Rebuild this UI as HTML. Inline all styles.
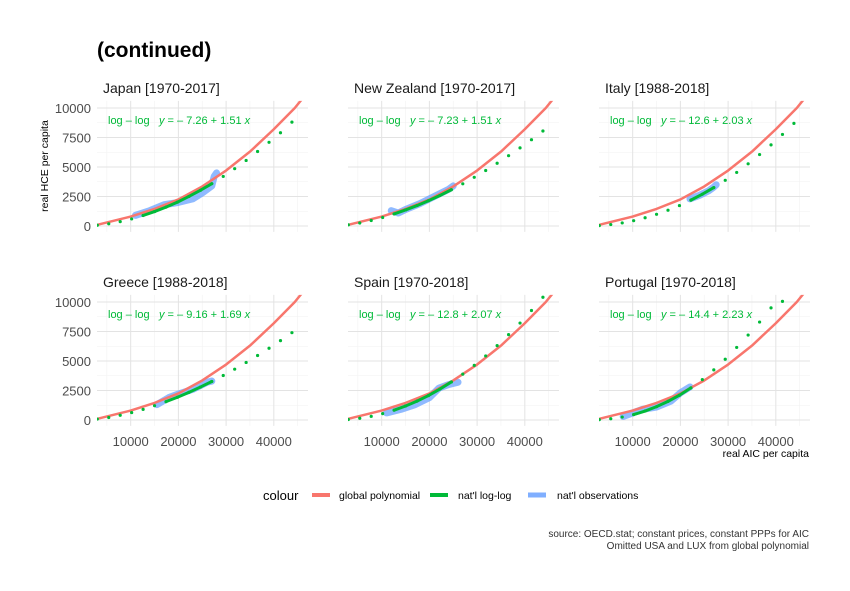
<!DOCTYPE html>
<html><head><meta charset="utf-8">
<style>
html,body{margin:0;padding:0;background:#fff;}
svg{display:block;font-family:"Liberation Sans",sans-serif;}
</style></head>
<body>
<svg id="chart" width="850" height="591" viewBox="0 0 850 591">
<text x="97" y="57" font-size="21" font-weight="bold" fill="#000">(continued)</text>
<text transform="translate(48,166) rotate(-90)" text-anchor="middle" font-size="10.5" fill="#000">real HCE per capita</text>
<text x="809" y="457" text-anchor="end" font-size="10.5" fill="#000">real AIC per capita</text>
<g>
<text x="263" y="500" font-size="13" fill="#000">colour</text>
<line x1="312" y1="495" x2="330" y2="495" stroke="#F8766D" stroke-width="4"/>
<text x="339" y="499" font-size="10.5" fill="#000">global polynomial</text>
<line x1="430" y1="495" x2="448" y2="495" stroke="#00BA38" stroke-width="4"/>
<text x="458" y="499" font-size="10.5" fill="#000">nat'l log-log</text>
<line x1="528" y1="495" x2="546" y2="495" stroke="#619CFF" stroke-width="5" opacity="0.8"/>
<text x="557" y="499" font-size="10.5" fill="#000">nat'l observations</text>
</g>
<text x="809" y="537" text-anchor="end" font-size="10" fill="#333">source: OECD.stat; constant prices, constant PPPs for AIC</text>
<text x="809" y="549" text-anchor="end" font-size="10" fill="#333">Omitted USA and LUX from global polynomial</text>
</svg>
<script>
const panels = ["Japan [1970-2017]","New Zealand [1970-2017]","Italy [1988-2018]","Greece [1988-2018]","Spain [1970-2018]","Portugal [1970-2018]"];
const equations = ["y = – 7.26 + 1.51 x","y = – 7.23 + 1.51 x","y = – 12.6 + 2.03 x","y = – 9.16 + 1.69 x","y = – 12.8 + 2.07 x","y = – 14.4 + 2.23 x"];
const xTicks = [10000,20000,30000,40000];
const yTicks = [0,2500,5000,7500,10000];
const globalX = [3000,10000,15000,20000,25000,30000,35000,40000,44400,46000];
const globalY = [100,800,1450,2250,3350,4700,6300,8200,10000,10800];
const dotX = [3000,5400,7800,10200,12600,15000,17400,19800,22200,24600,27000,29400,31800,34200,36600,39000,41400,43800];
const dotJapan = [66,186,368,600,889,1223,1601,2024,2504,3023,3586,4202,4858,5556,6315,7093,7900,8800];
const dotNZ = [100,254,465,722,1023,1361,1731,2138,2587,3070,3577,4128,4706,5315,5960,6622,7314,8050];
const dotItaly = [37,123,261,452,696,992,1340,1731,2192,2697,3254,3872,4541,5272,6055,6873,7760,8700];
const dotGreece = [80,212,400,629,903,1214,1554,1931,2346,2790,3263,3774,4307,4877,5469,6083,6727,7400];
const dotSpain = [45,147,312,541,832,1186,1600,2070,2620,3224,3890,4628,5430,6302,7238,8216,9277,10400];
const dotPortugal = [29,106,250,460,760,1130,1580,2100,2720,3420,4250,5150,6150,7200,8300,9500,10055,11400];
const fitMin = [10500,12000,22000,15500,11000,8000];
const fitMax = [28000,25000,27500,27000,25500,23000];
const obsJapanX = [11000,14000,17000,20000,23000,25000,27000,27500,28000];
const obsJapanY = [900,1300,1800,2000,2300,2800,3400,4200,4500];
const obsNZX = [12000,13500,15000,18000,21000,24000,25000];
const obsNZY = [1300,1100,1400,1900,2500,3100,3400];
const obsItalyX = [22000,24000,26000,27000,27500];
const obsItalyY = [2300,2600,3000,3300,3500];
const obsGreeceX = [15500,18000,20000,23000,26000,27000];
const obsGreeceY = [1300,1900,2200,2600,3200,3300];
const obsSpainX = [11000,14000,17000,20000,22000,24000,26000];
const obsSpainY = [600,900,1300,1900,2700,3000,3200];
const obsPortugalX = [8000,10000,12000,15000,18000,20000,22000];
const obsPortugalY = [300,600,900,1100,1600,2300,2800];

const dots = [dotJapan,dotNZ,dotItaly,dotGreece,dotSpain,dotPortugal];
const obsX = [obsJapanX,obsNZX,obsItalyX,obsGreeceX,obsSpainX,obsPortugalX];
const obsY = [obsJapanY,obsNZY,obsItalyY,obsGreeceY,obsSpainY,obsPortugalY];

const NS="http://www.w3.org/2000/svg";
const svg=document.getElementById('chart');
const YMAX=10600, YMIN=-500;
function mk(tag,attrs,parent){const e=document.createElementNS(NS,tag);for(const k in attrs)e.setAttribute(k,attrs[k]);(parent||svg).appendChild(e);return e;}

panels.forEach((title,i)=>{
  const col=i%3,row=Math.floor(i/3);
  const left=97+col*251, width=211;
  const zero=226+row*194;
  const sx=v=>83+col*251+v*0.00477;
  const sy=v=>zero-v*0.0118;
  const g=mk('g',{});
  
  
  const top=sy(YMAX), bot=sy(YMIN);
  const clipId='clip'+i;
  const cp=mk('clipPath',{id:clipId},g);
  mk('rect',{x:left,y:top,width:width,height:bot-top},cp);
  for(let v=5000;v<=45000;v+=10000){const l=mk('line',{x1:sx(v),x2:sx(v),y1:top,y2:bot,stroke:'#f2f2f2','stroke-width':0.6},g);}
  for(let v=1250;v<=8750;v+=2500){const l=mk('line',{x1:left,x2:left+width,y1:sy(v),y2:sy(v),stroke:'#f2f2f2','stroke-width':0.6},g);}
  xTicks.forEach(v=>{const l=mk('line',{x1:sx(v),x2:sx(v),y1:top,y2:bot,stroke:'#e3e3e3','stroke-width':1},g);
    if(row===1){const t=mk('text',{x:sx(v),y:zero+26,'text-anchor':'middle','font-size':13,fill:'#4d4d4d'},g);t.textContent=v;}});
  yTicks.forEach(v=>{const l=mk('line',{x1:left,x2:left+width,y1:sy(v),y2:sy(v),stroke:'#e3e3e3','stroke-width':1},g);
    if(col===0){const t=mk('text',{x:91,y:sy(v)+5,'text-anchor':'end','font-size':13,fill:'#4d4d4d'},g);t.textContent=v;}});
  const tt=mk('text',{x:left+6,y:zero-133,'font-size':14,fill:'#1a1a1a'},g);tt.textContent=title;
  
  const plot=mk('g',{'clip-path':'url(#'+clipId+')'},g);
  const ob=mk('polyline',{points:obsX[i].map((x,j)=>sx(x)+','+sy(obsY[i][j])).join(' '),fill:'none',stroke:'#619CFF','stroke-width':7,'stroke-linejoin':'round','stroke-linecap':'round',opacity:0.7},plot);
  
  const gp=mk('polyline',{points:globalX.map((x,j)=>sx(x)+','+sy(globalY[j])).join(' '),fill:'none',stroke:'#F8766D','stroke-width':2.5,'stroke-linejoin':'round'},plot);
  
  const pts=[];dotX.forEach((x,j)=>{if(x>=fitMin[i]&&x<=fitMax[i])pts.push(sx(x)+','+sy(dots[i][j]));});
  const fl=mk('polyline',{points:pts.join(' '),fill:'none',stroke:'#00BA38','stroke-width':3,'stroke-linecap':'round'},plot);
  
  dotX.forEach((x,j)=>{const y=dots[i][j]; if(y>YMAX-100)return;
    const c=mk('circle',{cx:sx(x),cy:sy(y),r:1.6,fill:'#00BA38'},plot);
    });
  const e1=mk('text',{x:left+11,y:zero-102,'font-size':11,fill:'#00BA38'},g);e1.textContent='log – log';
  
  const e2=mk('text',{x:left+62,y:zero-102,'font-size':11,fill:'#00BA38'},g);
  const p=equations[i];
  const a=mk('tspan',{'font-style':'italic'},e2);a.textContent='y';
  const b=mk('tspan',{},e2);b.textContent=p.slice(1,-1);
  const c=mk('tspan',{'font-style':'italic'},e2);c.textContent='x';
  
});
</script>
</body></html>
